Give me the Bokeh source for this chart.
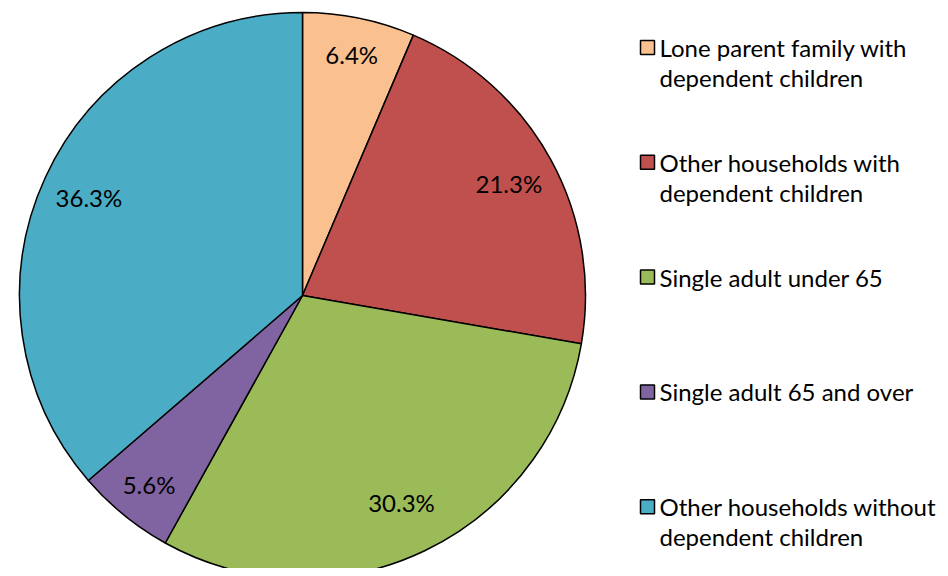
import math
from bokeh.plotting import figure
from bokeh.models import Range1d, ColumnDataSource
from bokeh.core.properties import value
from bokeh.embed import file_html
from bokeh.resources import INLINE

# ---- data ----
categories = [
    "Lone parent family with\ndependent children",
    "Other households with\ndependent children",
    "Single adult under 65",
    "Single adult 65 and over",
    "Other households without\ndependent children",
]
shares = [6.4, 21.3, 30.3, 5.6, 36.3]
colors = ["#FAC090", "#C0504D", "#9BBB59", "#8064A2", "#4BACC6"]

# ---- layout (screen-pixel like data space) ----
W, H = 940, 568
CX, CY, R = 302, 576 - 295, 283
label_r = [0.87, 0.83, 0.81, 0.86, 0.83]
FONT = "Lato"

total = sum(shares)
starts, ends, lx, ly, ltxt = [], [], [], [], []
cum = 0.0
for i, s in enumerate(shares):
    a0 = math.pi / 2 - 2 * math.pi * cum / total
    cum += s
    a1 = math.pi / 2 - 2 * math.pi * cum / total
    starts.append(a1)
    ends.append(a0)
    mid = (a0 + a1) / 2
    lx.append(CX + label_r[i] * R * math.cos(mid))
    ly.append(CY + label_r[i] * R * math.sin(mid))
    ltxt.append(f"{s:.1f}%")

p = figure(width=W, height=H, output_backend="svg", toolbar_location=None,
           x_range=Range1d(0, W), y_range=Range1d(8, 8 + H),
           min_border=0)
p.axis.visible = False
p.grid.visible = False
p.outline_line_color = None
p.background_fill_color = "white"

src = ColumnDataSource(dict(start=starts, end=ends, color=colors))
p.wedge(x=CX, y=CY, radius=R, start_angle="start", end_angle="end",
        fill_color="color", line_color="black", line_width=1.5, source=src)

p.text(x=lx, y=ly, text=ltxt, text_font=value(FONT), text_font_size="24px",
       text_align="center", text_baseline="middle", text_color="black")

# legend drawn manually
leg_x, leg_y0, leg_step, line_pitch = 640, 576 - 47, 114.8, 30
sq_x, sq_y, tx, ty, tt = [], [], [], [], []
for i, c in enumerate(categories):
    yy = leg_y0 - i * leg_step
    sq_x.append(leg_x + 7)
    sq_y.append(yy)
    for k, line in enumerate(c.split("\n")):
        tx.append(leg_x + 19)
        ty.append(yy - k * line_pitch)
        tt.append(line)
p.rect(x=sq_x, y=sq_y, width=14, height=14, fill_color=colors,
       line_color="black", line_width=1.5)
p.text(x=tx, y=ty, text=tt, text_font=value(FONT), text_font_size="24px",
       text_align="left", text_baseline="middle", text_color="black")

open("out.html", "w").write(file_html(p, INLINE))
